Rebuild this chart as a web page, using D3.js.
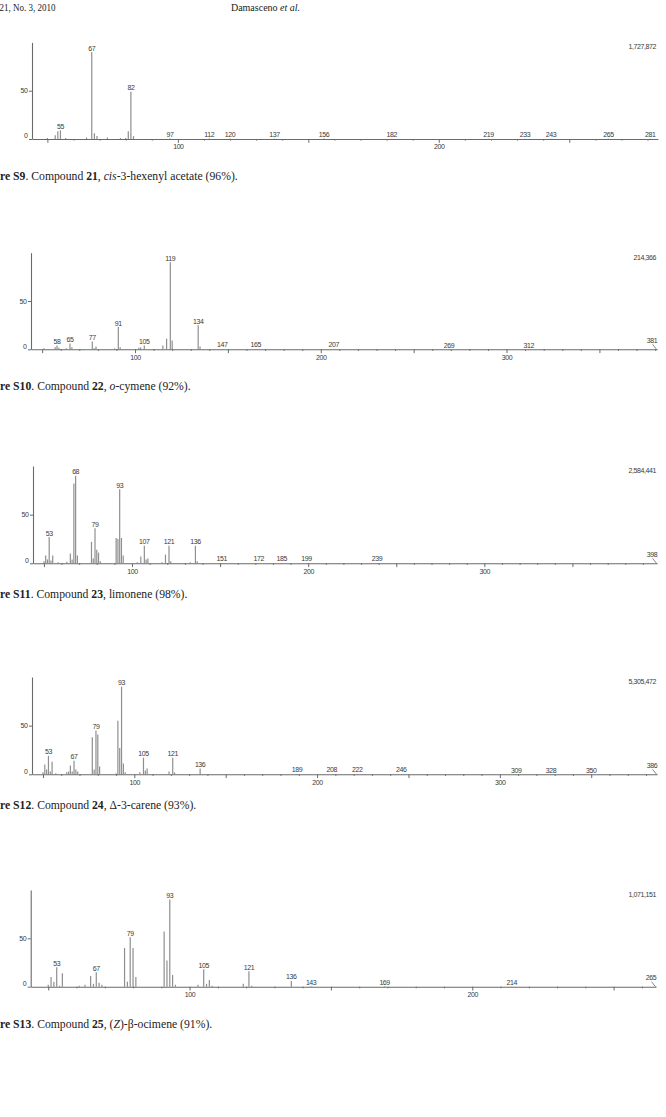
<!DOCTYPE html>
<html>
<head>
<meta charset="utf-8">
<script src="https://cdn.jsdelivr.net/npm/d3@7"></script>
<style>
  body { margin: 0; background: #fff; }
  svg { display: block; }
</style>
</head>
<body>
<div id="page"></div>
<script>
// spectrum data: m/z, relative intensity, labelled peaks, m/z range, total ion count
const s9Mz = [50, 53, 54, 55, 57, 65, 67, 68, 69, 73, 78, 80, 81, 82, 83, 97, 112, 120, 137, 156, 182, 219, 233, 243, 265, 281];
const s9Int = [1, 4, 8, 9, 1, 1.5, 90, 6, 3, 1.5, 1, 1, 8, 49, 3, 0.5, 0.4, 0.4, 0.4, 0.4, 0.3, 0.3, 0.3, 0.3, 0.3, 0.3];
const s9Labels = [55, 67, 82, 97, 112, 120, 137, 156, 182, 219, 233, 243, 265, 281];
const s9Range = [44.1, 284];
const s9Total = '1,727,872';

const s10Mz = [51, 57, 58, 59, 63, 65, 66, 77, 78, 79, 89, 91, 92, 102, 103, 105, 115, 117, 119, 120, 134, 135, 147, 165, 207, 269, 312, 381];
const s10Int = [1, 2, 4, 1.5, 1, 6, 2, 8, 1, 3, 1, 23, 2, 1.5, 2, 4, 4, 11, 90, 9, 25, 3, 0.4, 0.4, 0.4, 0.3, 0.3, 0.3];
const s10Labels = [58, 65, 77, 91, 105, 119, 134, 147, 165, 207, 269, 312, 381];
const s10Range = [44, 381];
const s10Total = '214,366';

const s11Mz = [50, 51, 52, 53, 54, 55, 58, 63, 65, 66, 67, 68, 69, 77, 78, 79, 80, 81, 82, 91, 92, 93, 94, 95, 103, 105, 107, 108, 109, 117, 119, 121, 122, 133, 136, 137, 151, 172, 185, 199, 239, 398];
const s11Int = [2, 8, 4, 27, 3, 8, 1, 1.5, 10, 4, 82, 90, 8, 22, 5, 36, 14, 11, 2, 26, 25, 76, 26, 8, 1, 7, 18, 4, 5, 1, 9, 18, 2, 1, 18, 2, 0.4, 0.4, 0.4, 0.4, 0.4, 0.3];
const s11Labels = [53, 68, 79, 93, 107, 121, 136, 151, 172, 185, 199, 239, 398];
const s11Range = [43.8, 398];
const s11Total = '2,584,441';

const s12Mz = [50, 51, 52, 53, 54, 55, 57, 63, 64, 65, 66, 67, 68, 69, 77, 78, 79, 80, 81, 90, 91, 92, 93, 94, 95, 103, 105, 106, 107, 119, 121, 122, 136, 189, 208, 222, 246, 309, 328, 350, 386];
const s12Int = [2, 10, 5, 19, 3, 13, 1, 2, 3, 9, 3, 14, 5, 3, 38, 5, 45, 41, 8, 1, 55, 27, 90, 11, 2, 2, 17, 4, 6, 3, 17, 2, 6, 0.4, 0.4, 0.4, 0.4, 0.3, 0.3, 0.3, 0.3];
const s12Labels = [53, 67, 79, 93, 105, 121, 136, 189, 208, 222, 246, 309, 328, 350, 386];
const s12Range = [44, 386];
const s12Total = '5,305,472';

const s13Mz = [50, 51, 52, 53, 54, 55, 61, 63, 65, 66, 67, 68, 69, 77, 78, 79, 80, 81, 91, 92, 93, 94, 95, 103, 105, 106, 107, 108, 119, 121, 122, 136, 143, 169, 214, 265];
const s13Int = [2, 10, 5, 20, 1, 14, 1, 2, 11, 3, 15, 4, 2, 40, 5, 51, 40, 10, 57, 27, 90, 12, 2, 2, 18, 3, 7, 1, 3, 16, 1, 6, 0.4, 0.4, 0.3, 0.3];
const s13Labels = [53, 67, 79, 93, 105, 121, 136, 143, 169, 214, 265];
const s13Range = [43.8, 265];
const s13Total = '1,071,151';

// captions: [text, style] pieces
const s9Caption = [['Figure S9', 'b'], ['. Compound ', ''], ['21', 'b'], [', ', ''], ['cis', 'i'], ['-3-hexenyl acetate (96%).', '']];
const s10Caption = [['Figure S10', 'b'], ['. Compound ', ''], ['22', 'b'], [', ', ''], ['o', 'i'], ['-cymene (92%).', '']];
const s11Caption = [['Figure S11', 'b'], ['. Compound ', ''], ['23', 'b'], [', limonene (98%).', '']];
const s12Caption = [['Figure S12', 'b'], ['. Compound ', ''], ['24', 'b'], [', \u0394-3-carene (93%).', '']];
const s13Caption = [['Figure S13', 'b'], ['. Compound ', ''], ['25', 'b'], [', (', ''], ['Z', 'i'], [')-\u03b2-ocimene (91%).', '']];

const width = 666, height = 1117;
const numFont = '"Liberation Sans", Arial, sans-serif';
const serif = '"Liberation Serif", "Times New Roman", serif';
const barColor = '#8f8f8f', axisColor = '#6a6a6a', textColor = '#3a3a3a';

// where each panel sits on the page
const panels = [
  { mz: s9Mz, int: s9Int, labels: s9Labels, range: s9Range, total: s9Total, caption: s9Caption, top: 42.4, base: 139, left: 32, right: 658, capY: 180 },
  { mz: s10Mz, int: s10Int, labels: s10Labels, range: s10Range, total: s10Total, caption: s10Caption, top: 252.7, base: 349.3, left: 31, right: 657, capY: 389.5 },
  { mz: s11Mz, int: s11Int, labels: s11Labels, range: s11Range, total: s11Total, caption: s11Caption, top: 466, base: 563.3, left: 33, right: 657, capY: 597.5 },
  { mz: s12Mz, int: s12Int, labels: s12Labels, range: s12Range, total: s12Total, caption: s12Caption, top: 677, base: 774.3, left: 32, right: 657, capY: 808.5 },
  { mz: s13Mz, int: s13Int, labels: s13Labels, range: s13Range, total: s13Total, caption: s13Caption, top: 889.9, base: 986.7, left: 30.7, right: 656, capY: 1028 }
];

const svg = d3.select('#page').append('svg')
  .attr('width', width)
  .attr('height', height);

svg.append('rect').attr('width', width).attr('height', height).attr('fill', '#fff');

function textWidth(str, size, weight) {
  const probe = svg.append('text')
    .style('font-family', serif).style('font-size', size + 'px').style('font-weight', weight)
    .text(str);
  const w = probe.node().getComputedTextLength();
  probe.remove();
  return w;
}

// running head (condensed, like the scan)
svg.append('text')
  .attr('x', -0.5).attr('y', 11)
  .attr('textLength', 56).attr('lengthAdjust', 'spacingAndGlyphs')
  .style('font-family', serif).style('font-size', '10.5px').attr('fill', '#222')
  .text('21, No. 3, 2010');

const head = svg.append('text')
  .attr('x', 265.5).attr('y', 11)
  .attr('text-anchor', 'middle')
  .style('font-family', serif).style('font-size', '10px').attr('fill', '#222');
head.append('tspan').text('Damasceno ');
head.append('tspan').style('font-style', 'italic').text('et al.');

const capSize = 11.7;
const capShift = textWidth('Figu', capSize, 'bold');

panels.forEach(p => {
  const x = d3.scaleLinear().domain(p.range).range([p.left, p.right]);
  const y = d3.scaleLinear().domain([0, 100]).range([p.base, p.top]);
  const g = svg.append('g');

  // bars
  const peaks = p.mz.map((m, i) => ({ mz: m, v: p.int[i] }));
  g.selectAll('line.bar')
    .data(peaks)
    .enter()
    .append('line')
    .attr('class', 'bar')
    .attr('x1', d => x(d.mz)).attr('x2', d => x(d.mz))
    .attr('y1', y(0)).attr('y2', d => y(d.v))
    .attr('stroke', barColor)
    .attr('stroke-width', 1.2);

  // x axis
  const first = Math.ceil(p.range[0] / 10) * 10;
  const xAxis = d3.axisBottom(x)
    .tickValues(d3.range(first, p.range[1], 10))
    .tickSizeInner(1.6).tickSizeOuter(0).tickPadding(3.8)
    .tickFormat(d => d % 100 === 0 ? d : '');
  const xg = g.append('g').attr('transform', `translate(0,${p.base})`).call(xAxis);
  xg.select('.domain').attr('stroke', axisColor).attr('stroke-width', 1.1);
  xg.selectAll('.tick line').attr('stroke', axisColor)
    .attr('y2', d => d % 50 === 0 ? 3.8 : 1.6);
  xg.selectAll('.tick text').attr('fill', textColor)
    .style('font-family', numFont).style('font-size', '7px').style('letter-spacing', '-0.4px');

  // y axis
  const yAxis = d3.axisLeft(y).tickValues([0, 50]).tickSizeInner(3).tickSizeOuter(0).tickPadding(1.5);
  const yg = g.append('g').attr('transform', `translate(${p.left},0)`).call(yAxis);
  yg.select('.domain').attr('stroke', axisColor).attr('stroke-width', 1.1);
  yg.selectAll('.tick line').attr('stroke', axisColor);
  yg.selectAll('.tick text').attr('fill', textColor)
    .style('font-family', numFont).style('font-size', '7px').style('letter-spacing', '-0.4px')
    .attr('dy', d => d === 0 ? '-0.15em' : '0.32em');

  // peak labels
  const labelled = p.labels.map(m => ({ mz: m, v: p.int[p.mz.indexOf(m)] }));
  labelled.forEach(d => {
    const px = x(d.mz);
    const atEdge = px > p.right - 6;
    if (atEdge) {
      g.append('line')
        .attr('x1', px - 4.5).attr('y1', p.base - 5)
        .attr('x2', px - 0.5).attr('y2', p.base)
        .attr('stroke', axisColor).attr('stroke-width', 0.8);
    }
    g.append('text')
      .attr('x', atEdge ? px - 5 : px)
      .attr('y', atEdge ? p.base - 6.3 : y(d.v) - 1.5)
      .attr('text-anchor', 'middle')
      .attr('fill', textColor)
      .style('font-family', numFont).style('font-size', '7px').style('letter-spacing', '-0.4px')
      .text(d.mz);
  });

  // total ion count
  g.append('text')
    .attr('x', 656).attr('y', p.top + 6.8)
    .attr('text-anchor', 'end')
    .attr('fill', textColor)
    .style('font-family', numFont).style('font-size', '7px').style('letter-spacing', '-0.4px')
    .text(p.total);

  // caption, left part "Figu" runs off the page as in the scan
  const cap = svg.append('text')
    .attr('x', -capShift).attr('y', p.capY)
    .style('font-family', serif).style('font-size', capSize + 'px').attr('fill', '#222');
  p.caption.forEach(([t, s]) => {
    const ts = cap.append('tspan').text(t);
    if (s === 'b') ts.style('font-weight', 'bold');
    if (s === 'i') ts.style('font-style', 'italic');
  });
});
</script>
</body>
</html>
